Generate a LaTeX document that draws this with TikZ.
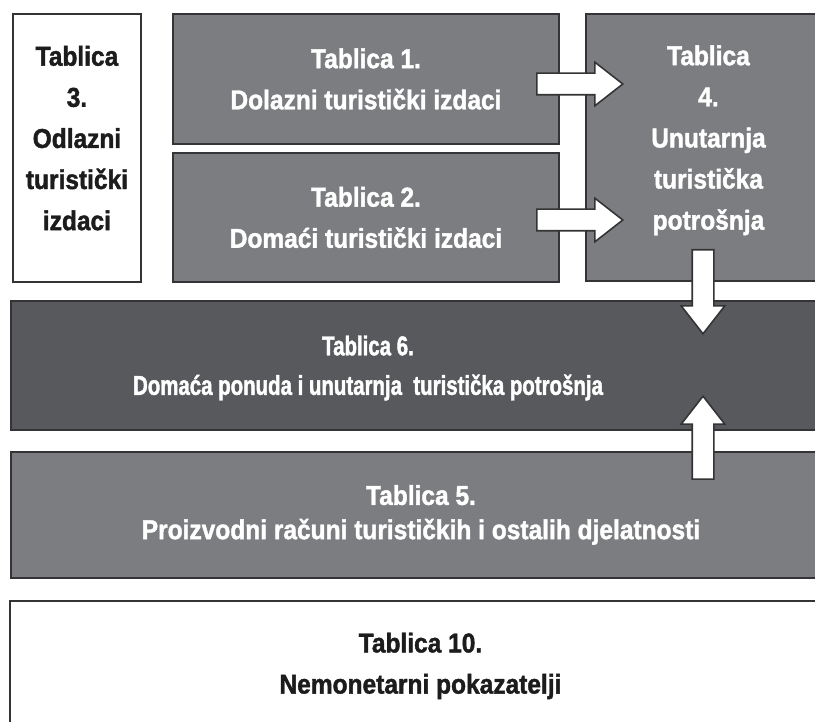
\documentclass[tikz,border=0pt]{standalone}
\usepackage{fontspec}
\setmainfont{Liberation Sans}[FakeStretch=0.9, BoldFeatures={FakeBold=1.5}]
\newfontfamily\narrowfont{Liberation Sans}[FakeStretch=0.75, BoldFeatures={FakeBold=1.5}]
\usepackage{xcolor}
\usetikzlibrary{shapes.arrows,calc,positioning}
\definecolor{panelgray}{RGB}{124,125,129}
\definecolor{paneldark}{RGB}{88,89,92}
\definecolor{edgegray}{RGB}{52,52,54}
\definecolor{inkblack}{RGB}{28,28,28}

\newcommand{\pxl}[1]{#1*0.02cm}
% fat white arrow from one named point to another
\newcommand{\fatarrow}[2]{%
  \path let \p1=($(#2)-(#1)$), \n1={atan2(\y1,\x1)}, \n2={veclen(\x1,\y1)} in
    node[fatarr, minimum height=\n2, rotate=\n1, anchor=tail] at (#1) {};}

\begin{document}
\begin{tikzpicture}[x=0.02cm, y=0.02cm,
    panel/.style={draw=edgegray, line width=1.1pt, anchor=north west, inner sep=0pt,
      align=center, font=\fontsize{15.5}{23.4}\selectfont\bfseries},
    whitepanel/.style={panel, fill=white, text=inkblack},
    graypanel/.style={panel, fill=panelgray, text=white},
    darkpanel/.style={panel, fill=paneldark, text=white},
    fatarr/.style={single arrow, draw=edgegray, fill=white, line width=0.9pt,
      inner sep=\pxl{10}, minimum width=\pxl{42}, single arrow head extend=\pxl{11},
      single arrow tip angle=76}]
    \useasboundingbox (0,0) rectangle (815,-722);
    \fill[white] (0,0) rectangle (815,-722);
    \clip (0,0) rectangle (815,-722);

    \node[whitepanel, minimum width=\pxl{128}, minimum height=\pxl{268}, text depth=11.3pt]
        (t3) at (12,-13) {Tablica\\3.\\Odlazni\\turistički\\izdaci};
    \node[graypanel, minimum width=\pxl{386}, minimum height=\pxl{130}] (t1) at (172,-13)
        {Tablica 1.\\Dolazni turistički izdaci};
    \node[graypanel, minimum width=\pxl{386}, minimum height=\pxl{129}] (t2) at (172,-152)
        {Tablica 2.\\Domaći turistički izdaci};
    \node[graypanel, minimum width=\pxl{245}, minimum height=\pxl{267}, text depth=11.3pt]
        (t4) at (585,-13) {Tablica\\4.\\Unutarnja\\turistička\\potrošnja};
    \node[darkpanel, minimum width=\pxl{820}, minimum height=\pxl{129}] (t6) at (10,-300) {};
    \node[text=white, align=center, font=\fontsize{15.5}{22.5}\selectfont\narrowfont\bfseries]
        (t6text) at (368,-368) {Tablica 6.\\Domaća ponuda i unutarnja\ \ turistička potrošnja};
    \node[graypanel, minimum width=\pxl{820}, minimum height=\pxl{126},
        font=\fontsize{15.5}{19.5}\selectfont\bfseries] (t5) at (10,-451)
        {Tablica 5.\\Proizvodni računi turističkih i ostalih djelatnosti};
    \node[whitepanel, minimum width=\pxl{821}, minimum height=\pxl{130}] (t10) at (9,-600)
        {Tablica 10.\\Nemonetarni pokazatelji};

    % arrow ends
    \coordinate (a1s) at (536,-84);  \coordinate (a1e) at (622,-84);
    \coordinate (a2s) at (536,-220); \coordinate (a2e) at (622,-220);
    \coordinate (a3s) at (703,-249); \coordinate (a3e) at (703,-333);
    \coordinate (a4s) at (703,-480); \coordinate (a4e) at (703,-397);
    \fatarrow{a1s}{a1e}
    \fatarrow{a2s}{a2e}
    \fatarrow{a3s}{a3e}
    \fatarrow{a4s}{a4e}
\end{tikzpicture}
\end{document}
